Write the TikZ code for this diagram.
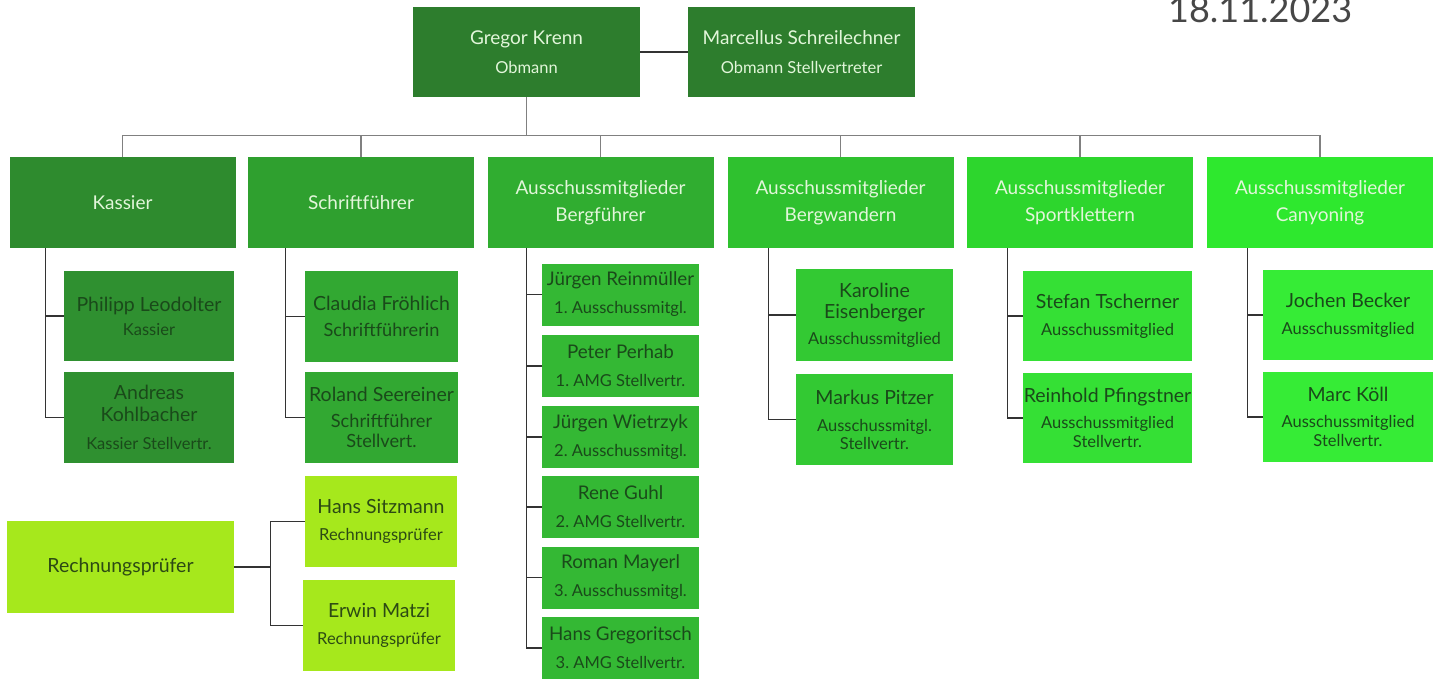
\documentclass[tikz,border=0pt]{standalone}
\usepackage{fontspec}
\setmainfont{Lato}
\frenchspacing
\definecolor{cTop}{HTML}{2D7D2D}
\definecolor{cKas}{HTML}{2E8B2E}
\definecolor{cSch}{HTML}{2FA02F}
\definecolor{cBgf}{HTML}{30AD30}
\definecolor{cBgw}{HTML}{2FC12F}
\definecolor{cSpo}{HTML}{2DD62D}
\definecolor{cCan}{HTML}{2EE82E}
\definecolor{cKasC}{HTML}{2F9030}
\definecolor{cSchC}{HTML}{32A832}
\definecolor{cBgfC}{HTML}{34B834}
\definecolor{cBgwC}{HTML}{33C933}
\definecolor{cSpoC}{HTML}{35E035}
\definecolor{cCanC}{HTML}{36EC36}
\definecolor{cRech}{HTML}{A6E81C}
\definecolor{txtLight}{HTML}{E2F6DA}
\definecolor{txtDark}{HTML}{1A4A1A}
\definecolor{txtRech}{HTML}{2C4A14}
\definecolor{busGray}{HTML}{808080}
\definecolor{brDark}{HTML}{333333}
\tikzset{
  box/.style={draw=none, rectangle, inner sep=1pt, align=center},
  headbox/.style={box, text=txtLight, font=\fontsize{19}{27}\selectfont},
  topbox/.style={headbox, fill=cTop, minimum width=227pt, minimum height=90pt, font=\fontsize{19}{29}\selectfont},
  lvlbox/.style={headbox, minimum width=226pt, minimum height=91pt},
  childbox/.style={box, text=txtDark, font=\fontsize{19.5}{26}\selectfont},
  bgfbox/.style={childbox, fill=cBgfC, minimum width=157pt, minimum height=62pt, font=\fontsize{18.8}{28}\selectfont},
  rechbox/.style={childbox, text=txtRech, fill=cRech, font=\fontsize{19.5}{27}\selectfont},
  bus/.style={draw=busGray, line width=1.1pt},
  branch/.style={draw=brDark, line width=1.2pt},
}
\newcommand{\subt}[1]{{\fontsize{16.5}{20}\selectfont #1}}
\newcommand{\subm}[1]{{\fontsize{18.2}{20}\selectfont #1}}
\begin{document}
\begin{tikzpicture}[x=1pt,y=-1pt]
\useasboundingbox (0,0) rectangle (1440,678);
\fill[white] (0,0) rectangle (1440,678);
% date
\node[anchor=base west, text=black!72, font=\fontsize{36}{36}\selectfont, inner sep=0pt] (date) at (1168,22) {18.11.2023};
% top
\node[topbox] (greg) at (526.5,52) {Gregor Krenn\\\subt{Obmann}};
\node[topbox] (marc) at (801.5,52) {Marcellus Schreilechner\\\subt{Obmann Stellvertreter}};
\draw[branch] (greg.east) -- (marc.west);
% level 2
\node[lvlbox, fill=cKas] (kas) at (122.5,202.5) {Kassier};
\node[lvlbox, fill=cSch] (sch) at (361,202.5) {Schriftführer};
\node[lvlbox, fill=cBgf] (bgf) at (600.5,202.5) {Ausschussmitglieder\\Bergführer};
\node[lvlbox, fill=cBgw] (bgw) at (840.5,202.5) {Ausschussmitglieder\\Bergwandern};
\node[lvlbox, fill=cSpo] (spo) at (1080,202.5) {Ausschussmitglieder\\Sportklettern};
\node[lvlbox, fill=cCan] (can) at (1320,202.5) {Ausschussmitglieder\\Canyoning};
\foreach \n in {kas,sch,bgf,bgw,spo,can}{
  \draw[bus] (greg.south) -- ++(0,38) -| (\n.north);
}
% Kassier children
\node[childbox, fill=cKasC, minimum width=170pt, minimum height=90pt] (phil) at (149,316) {Philipp Leodolter\\[-2pt]\subt{Kassier}};
\node[childbox, fill=cKasC, minimum width=170pt, minimum height=91pt] (andr) at (149,417.5) {Andreas\\[-4pt]Kohlbacher\\[2pt]\subt{Kassier Stellvertr.}};
\draw[branch] ([xshift=36pt]kas.south west) |- (phil.west);
\draw[branch] ([xshift=36pt]kas.south west) |- (andr.west);
% Schriftfuehrer children
\node[childbox, fill=cSchC, minimum width=153pt, minimum height=91pt] (clau) at (381.5,316.5) {Claudia Fröhlich\\\subm{Schriftführerin}};
\node[childbox, fill=cSchC, minimum width=153pt, minimum height=91pt] (rola) at (381.5,417.5) {Roland Seereiner\\\subm{Schriftführer}\\[-6pt]\subm{Stellvert.}};
\draw[branch] ([xshift=38pt]sch.south west) |- (clau.west);
\draw[branch] ([xshift=38pt]sch.south west) |- (rola.west);
% Bergfuehrer children
\node[bgfbox] (jrei) at (620.5,294.5) {Jürgen Reinmüller\\\subt{1. Ausschussmitgl.}};
\node[bgfbox] (pper) at (620.5,366) {Peter Perhab\\\subt{1. AMG Stellvertr.}};
\node[bgfbox] (jwie) at (620.5,437) {Jürgen Wietrzyk\\\subt{2. Ausschussmitgl.}};
\node[bgfbox] (rguh) at (620.5,507) {Rene Guhl\\\subt{2. AMG Stellvertr.}};
\node[bgfbox] (rmay) at (620.5,577.5) {Roman Mayerl\\\subt{3. Ausschussmitgl.}};
\node[bgfbox] (hgre) at (620.5,648) {Hans Gregoritsch\\\subt{3. AMG Stellvertr.}};
\foreach \n in {jrei,pper,jwie,rguh,rmay,hgre}{
  \draw[branch] ([xshift=39.5pt]bgf.south west) |- (\n.west);
}
% Bergwandern children
\node[childbox, fill=cBgwC, minimum width=157pt, minimum height=92pt] (karo) at (874.5,315) {Karoline\\[-5pt]Eisenberger\\\subt{Ausschussmitglied}};
\node[childbox, fill=cBgwC, minimum width=157pt, minimum height=91pt] (mpit) at (874.5,419.5) {Markus Pitzer\\[1pt]\subt{Ausschussmitgl.}\\[-8pt]\subt{Stellvertr.}};
\draw[branch] ([xshift=41.5pt]bgw.south west) |- (karo.west);
\draw[branch] ([xshift=41.5pt]bgw.south west) |- (mpit.west);
% Sportklettern children
\node[childbox, fill=cSpoC, minimum width=169pt, minimum height=90pt] (stef) at (1107.5,316) {Stefan Tscherner\\[1pt]\subt{Ausschussmitglied}};
\node[childbox, fill=cSpoC, minimum width=169pt, minimum height=90pt] (rein) at (1107.5,418) {Reinhold Pfingstner\\\subt{Ausschussmitglied}\\[-7pt]\subt{Stellvertr.}};
\draw[branch] ([xshift=41pt]spo.south west) |- (stef.west);
\draw[branch] ([xshift=41pt]spo.south west) |- (rein.west);
% Canyoning children
\node[childbox, fill=cCanC, minimum width=170pt, minimum height=90pt] (joch) at (1348,315) {Jochen Becker\\[1pt]\subt{Ausschussmitglied}};
\node[childbox, fill=cCanC, minimum width=170pt, minimum height=90pt] (mkoe) at (1348,417) {Marc Köll\\\subt{Ausschussmitglied}\\[-7pt]\subt{Stellvertr.}};
\draw[branch] ([xshift=41pt]can.south west) |- (joch.west);
\draw[branch] ([xshift=41pt]can.south west) |- (mkoe.west);
% Rechnungspruefer
\node[rechbox, minimum width=227pt, minimum height=92pt] (rech) at (120.5,567) {Rechnungsprüfer};
\node[rechbox, minimum width=152pt, minimum height=91pt] (hsit) at (381,521.5) {Hans Sitzmann\\\subt{Rechnungsprüfer}};
\node[rechbox, minimum width=152pt, minimum height=91pt] (erwi) at (379,625.5) {Erwin Matzi\\\subt{Rechnungsprüfer}};
\draw[branch] (rech.east) -- ++(36,0) |- (hsit.west);
\draw[branch] (rech.east) -- ++(36,0) |- (erwi.west);
\end{tikzpicture}
\end{document}
